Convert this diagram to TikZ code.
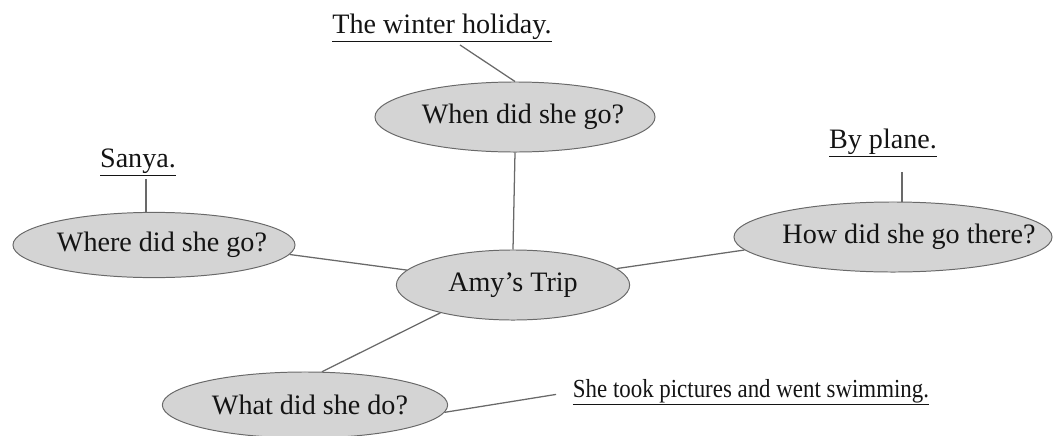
\documentclass[tikz,border=0pt]{standalone}
\usepackage{fontspec}
\setmainfont{Liberation Serif}
\newfontfamily\narrowserif[FakeStretch=0.88]{Liberation Serif}
\usepackage{xcolor}
\usepackage{tikz}
\usetikzlibrary{shapes.geometric}

\definecolor{bubblefill}{RGB}{212,212,212}
\definecolor{linegray}{RGB}{105,105,105}
\definecolor{inkgray}{RGB}{20,20,20}
\tikzset{
	bubble/.style={ellipse, draw=linegray, fill=bubblefill, line width=0.7pt, inner sep=0pt,
		text=inkgray, font=\fontsize{20}{24}\selectfont,
		execute at begin node={\hbox to 0pt\bgroup\hss}, execute at end node={\hss\egroup}},
	answer/.style={inner sep=2pt, anchor=base, text=inkgray, font=\fontsize{20}{24}\selectfont},
	link/.style={draw=linegray, line width=0.9pt}
}

\begin{document}
\begin{tikzpicture}[x=0.025cm, y=-0.025cm]
	\useasboundingbox (0,0) rectangle (1054,435);
	% question bubbles
	\foreach \name/\x/\y/\w/\h/\dx/\txt in {when/515/117/7.0/1.75/0.4/When did she go?,
		where/154/245/7.05/1.63/0.4/Where did she go?, how/893/237/7.95/1.75/0.8/How did she go there?,
		amy/513/285/5.83/1.75/0/Amy’s Trip, what/305/405/7.13/1.65/0.25/What did she do?}
	{
		\node[bubble, minimum width=\w cm, minimum height=\h cm] (\name) at (\x,\y) {\hskip\dx cm\txt};
	}
	% answers
	\node[answer] (winter) at (442,33) {\underline{The winter holiday.}};
	\node[answer] (sanya) at (138,167) {\underline{Sanya.}};
	\node[answer] (plane) at (883,148) {\underline{By plane.}};
	\node[answer, font=\narrowserif\fontsize{18.5}{22}\selectfont] (she) at (751,397) {\underline{She took pictures and went swimming.}};
	% links
	\draw[link] (where.-4) -- (amy.172);
	\draw[link] (how.185) -- (amy.9);
	\draw[link] (when.south) -- (amy.north);
	\draw[link] (what.63) -- (amy.201);
	\draw[link] ([xshift=0.45cm]winter.south) -- (when.north);
	\draw[link] ([xshift=0.2cm]sanya.south) coordinate (sanyafoot) -- (sanyafoot |- where.north);
	\draw[link, shorten <=0.3cm] ([xshift=0.475cm]plane.south) coordinate (planefoot) -- (planefoot |- how.north);
	\draw[link, shorten >=0.35cm] (what.-3) -- (she.west);
\end{tikzpicture}
\end{document}
